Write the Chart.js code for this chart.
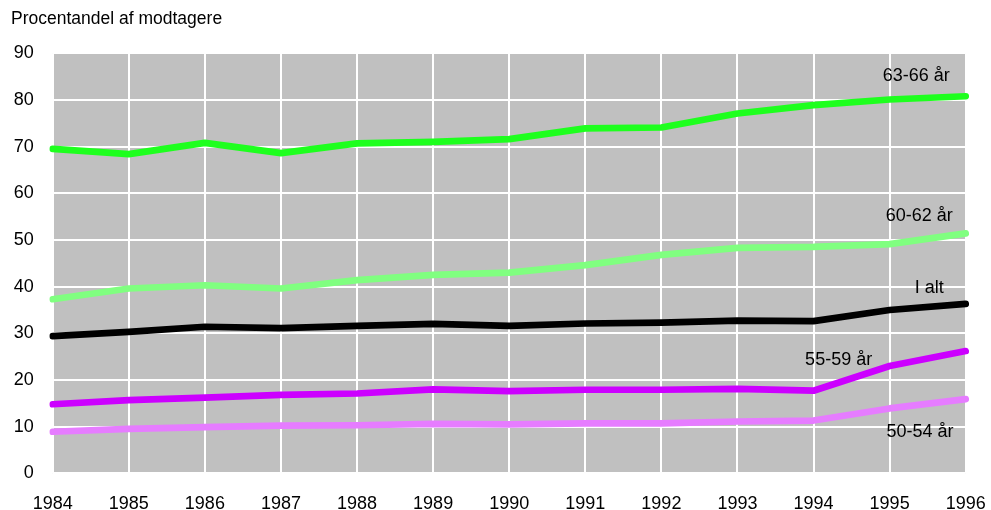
<!DOCTYPE html>
<html>
<head>
<meta charset="utf-8">
<script src="https://cdn.jsdelivr.net/npm/chart.js@4/dist/chart.umd.min.js"></script>
<style>
html,body{margin:0;padding:0;background:#fff;}
#wrap{width:991px;height:510px;position:relative;}
</style>
</head>
<body>
<div id="wrap"><canvas id="c" width="991" height="510"></canvas></div>
<script>
const years = ['1984','1985','1986','1987','1988','1989','1990','1991','1992','1993','1994','1995','1996'];
const yTicks = [0,10,20,30,40,50,60,70,80,90];
const age6366 = [69.5,68.4,70.8,68.6,70.7,71.0,71.6,73.9,74.1,77.1,78.9,80.1,80.8];
const age6062 = [37.3,39.6,40.3,39.6,41.4,42.5,43.0,44.6,46.8,48.3,48.5,49.1,51.4];
const iAlt    = [29.4,30.3,31.4,31.1,31.6,32.0,31.6,32.1,32.3,32.7,32.6,35.0,36.3];
const age5559 = [14.8,15.7,16.2,16.8,17.1,18.0,17.6,17.9,17.9,18.1,17.7,23.0,26.2];
const age5054 = [8.9,9.5,9.9,10.2,10.3,10.6,10.5,10.7,10.7,11.1,11.3,13.9,15.9];
const seriesNames = ['63-66 år','60-62 år','I alt','55-59 år','50-54 år'];
const yTitle = 'Procentandel af modtagere';
// label anchors in data coordinates (x = category index, y = value)
const labelAnchors = [
  {text:'63-66 år', x:11.35, y:85.1},
  {text:'60-62 år', x:11.39, y:55.2},
  {text:'I alt',    x:11.52, y:39.6},
  {text:'55-59 år', x:10.33, y:24.3},
  {text:'50-54 år', x:11.40, y:8.9}
];

const FONT = '"Liberation Sans", Arial, sans-serif';

const bgPlugin = {
  id:'bg',
  beforeDraw(chart){
    const {ctx, chartArea:a} = chart;
    ctx.save();
    ctx.fillStyle = '#C0C0C0';
    ctx.fillRect(a.left, a.top, a.right-a.left, a.bottom-a.top);
    ctx.restore();
  },
  afterDraw(chart){
    const {ctx} = chart;
    const xs = chart.scales.x, ys = chart.scales.y;
    ctx.save();
    ctx.fillStyle = '#000';
    ctx.font = '17.5px ' + FONT;
    ctx.textBaseline = 'middle';
    ctx.textAlign = 'left';
    ctx.fillText(yTitle, 11, 19);
    ctx.font = '18px ' + FONT;
    ctx.textAlign = 'center';
    labelAnchors.forEach(l=>{
      ctx.fillText(l.text, xs.getPixelForValue(l.x), ys.getPixelForValue(l.y));
    });
    ctx.restore();
  }
};

const mk = (label, data, color) => ({
  label, data, borderColor: color, backgroundColor: color,
  borderWidth: 6.7, pointRadius: 0, tension: 0, fill: false,
  borderCapStyle: 'round', borderJoinStyle: 'round'
});

new Chart(document.getElementById('c'), {
  type: 'line',
  data: {
    labels: years,
    datasets: [
      mk(seriesNames[4], age5054, '#E67CFF'),
      mk(seriesNames[3], age5559, '#CC00FF'),
      mk(seriesNames[2], iAlt, '#000000'),
      mk(seriesNames[1], age6062, '#80FF80'),
      mk(seriesNames[0], age6366, '#1EFF1E')
    ]
  },
  options: {
    responsive: false,
    animation: false,
    layout: { padding: { top: 53.3, right: 25.3, left: 0, bottom: 0 } },
    plugins: { legend: { display: false }, tooltip: { enabled: false }, title: { display: false } },
    scales: {
      x: {
        type: 'category',
        offset: false,
        grid: { color: '#FFFFFF', lineWidth: 2, drawTicks: false },
        border: { display: false },
        ticks: { color: '#000', font: { family: FONT, size: 18 }, padding: 20, maxRotation: 0, autoSkip: false },
        afterFit(s){ s.height = 36.7; s.paddingLeft = 0; s.paddingRight = 0; }
      },
      y: {
        min: 0, max: 90,
        grid: { color: '#FFFFFF', lineWidth: 2, drawTicks: false },
        border: { display: false },
        ticks: { stepSize: 10, color: '#000', font: { family: FONT, size: 18 }, padding: 19 },
        afterFit(s){ s.width = 52.7; s.paddingTop = 0; s.paddingBottom = 0; }
      }
    }
  },
  plugins: [bgPlugin]
});
</script>
</body>
</html>
